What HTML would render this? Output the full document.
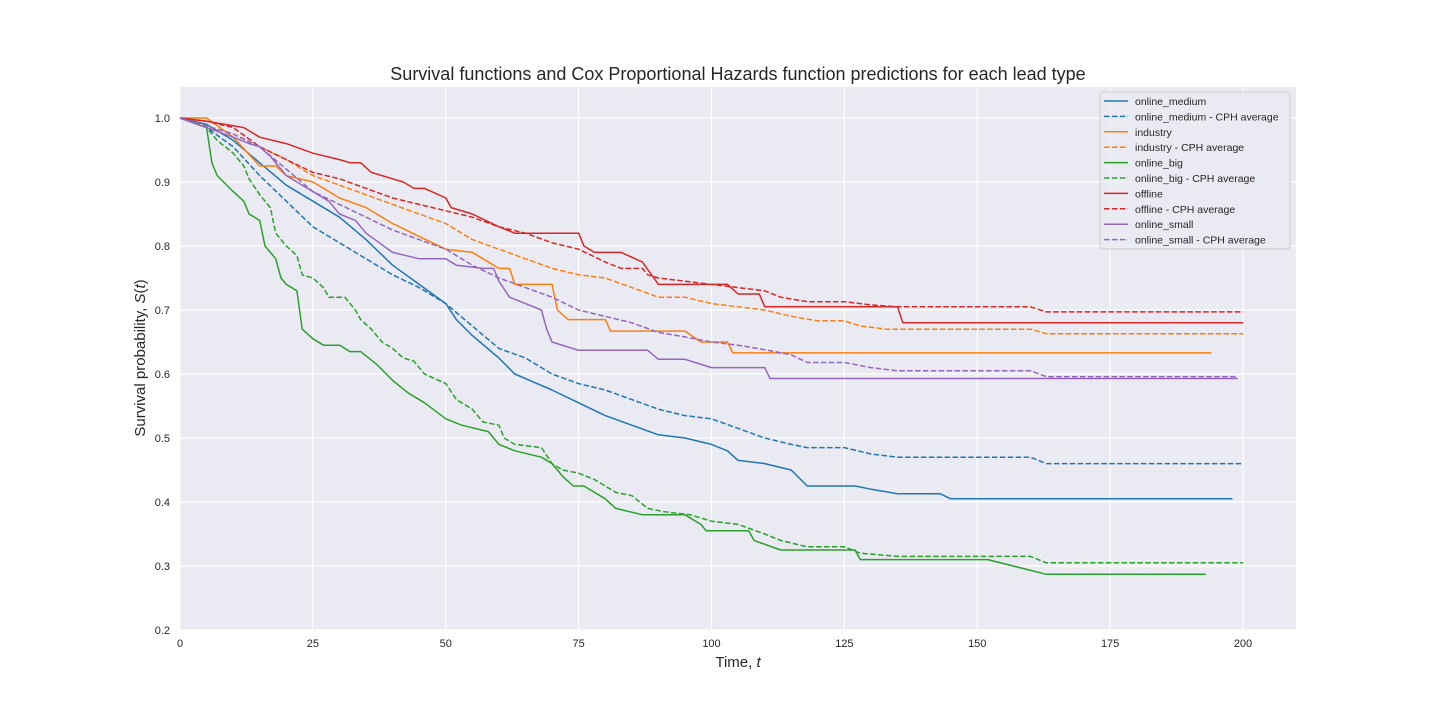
<!DOCTYPE html>
<html><head><meta charset="utf-8"><style>
body{margin:0;background:#fff;}
svg{display:block;font-family:"Liberation Sans",Arial,sans-serif;}
</style></head><body>
<svg id="chart" width="1440" height="720">
<rect x="180" y="87" width="1116" height="543" fill="#eaeaf2"/>
<g id="grid"></g><g id="series"></g><g id="ticks"></g>
<text x="738" y="80" text-anchor="middle" font-size="18" fill="#262626">Survival functions and Cox Proportional Hazards function predictions for each lead type</text>
<text x="738" y="667" text-anchor="middle" font-size="15" fill="#262626">Time, <tspan font-style="italic">t</tspan></text>
<text transform="translate(145,358) rotate(-90)" text-anchor="middle" font-size="15" fill="#262626">Survival probability, <tspan font-style="italic">S</tspan>(<tspan font-style="italic">t</tspan>)</text>
<g id="legend"></g>
</svg>
<script>
const xTicks=[0,25,50,75,100,125,150,175,200];
const yTicks=[0.2,0.3,0.4,0.5,0.6,0.7,0.8,0.9,1.0];
const seriesNames=["online_medium","online_medium - CPH average","industry","industry - CPH average","online_big","online_big - CPH average","offline","offline - CPH average","online_small","online_small - CPH average"];
const mediumT=[0,5,10,15,20,25,30,35,40,45,50,52,55,60,63,70,75,80,85,90,95,100,103,105,110,115,118,127,130,135,143,145,198];
const mediumS=[1,.99,.965,.93,.895,.87,.845,.81,.77,.74,.71,.685,.66,.625,.6,.575,.555,.535,.52,.505,.5,.49,.48,.465,.46,.45,.425,.425,.42,.413,.413,.405,.405];
const mediumCT=[0,5,10,15,20,25,30,35,40,45,50,55,60,65,70,75,80,85,90,95,100,105,110,115,118,125,130,135,160,163,200];
const mediumCS=[1,.985,.955,.91,.87,.83,.805,.78,.755,.735,.71,.675,.64,.625,.6,.585,.575,.56,.545,.535,.53,.515,.5,.49,.485,.485,.475,.47,.47,.46,.46];
const industryT=[0,5,10,15,18,20,25,30,35,40,45,50,55,57,60,62,63,70,71,73,80,81,95,98,103,104,194];
const industryS=[1,1,.97,.925,.925,.91,.9,.875,.86,.835,.815,.795,.79,.78,.765,.765,.74,.74,.7,.685,.685,.667,.667,.65,.65,.633,.633];
const industryCT=[0,10,20,25,30,35,40,45,50,55,60,65,70,75,80,85,90,95,100,105,110,115,120,125,128,133,160,163,200];
const industryCS=[1,.975,.935,.91,.895,.88,.865,.85,.835,.81,.795,.78,.765,.755,.75,.735,.72,.72,.71,.705,.7,.69,.683,.683,.675,.67,.67,.663,.663];
const bigT=[0,5,6,7,10,12,13,15,16,18,19,20,22,23,25,27,30,32,34,37,40,43,46,50,53,58,60,63,68,70,72,74,76,80,82,87,95,98,99,107,108,113,127,128,152,163,193];
const bigS=[1,.985,.93,.91,.885,.87,.85,.84,.8,.78,.75,.74,.73,.67,.655,.645,.645,.635,.635,.615,.59,.57,.555,.53,.52,.51,.49,.48,.47,.46,.44,.425,.425,.405,.39,.38,.38,.365,.355,.355,.34,.325,.325,.31,.31,.287,.287];
const bigCT=[0,5,7,10,12,13,15,17,18,20,22,23,25,27,28,31,33,34,36,38,40,42,44,46,50,52,55,57,60,61,63,68,70,72,75,78,82,85,88,91,96,100,105,110,113,118,125,128,135,160,163,200];
const bigCS=[1,.985,.965,.945,.925,.905,.88,.86,.82,.8,.785,.755,.75,.735,.72,.72,.7,.685,.67,.65,.64,.625,.62,.6,.585,.56,.545,.525,.52,.5,.49,.485,.46,.45,.445,.435,.415,.41,.39,.385,.38,.37,.365,.35,.34,.33,.33,.32,.315,.315,.305,.305];
const offlineT=[0,5,12,15,20,25,30,32,34,36,40,42,44,46,50,51,55,60,63,75,76,78,83,87,90,103,105,109,110,135,136,200];
const offlineS=[1,.995,.985,.97,.96,.945,.935,.93,.93,.915,.905,.9,.89,.89,.875,.86,.85,.83,.82,.82,.8,.79,.79,.775,.74,.74,.725,.725,.705,.705,.68,.68];
const offlineCT=[0,5,10,15,20,25,30,35,40,45,50,55,60,65,70,75,80,83,87,88,90,95,100,105,110,113,118,125,130,135,160,163,200];
const offlineCS=[1,.995,.985,.955,.935,.915,.905,.89,.875,.865,.855,.845,.83,.82,.805,.795,.775,.765,.765,.755,.75,.745,.74,.735,.73,.72,.713,.713,.708,.705,.705,.697,.697];
const smallT=[0,5,10,13,15,17,20,25,28,30,33,35,40,45,50,52,57,59,60,62,65,68,69,70,75,88,90,95,100,110,111,199];
const smallS=[1,.985,.97,.96,.955,.94,.91,.885,.87,.85,.84,.82,.79,.78,.78,.77,.765,.765,.745,.72,.71,.7,.67,.65,.637,.637,.623,.623,.61,.61,.593,.593];
const smallCT=[0,10,15,20,25,30,35,40,45,50,55,60,65,70,75,80,85,90,95,100,105,110,115,118,125,130,135,160,163,199];
const smallCS=[1,.975,.955,.92,.885,.865,.845,.825,.81,.795,.77,.75,.735,.72,.7,.69,.68,.665,.658,.65,.645,.638,.63,.618,.618,.61,.605,.605,.596,.596];

const X=t=>180+t*(1063/200);
const Y=s=>118+(1-s)*640;
const NS="http://www.w3.org/2000/svg";
function mk(tag,attrs,parent){const e=document.createElementNS(NS,tag);for(const k in attrs)e.setAttribute(k,attrs[k]);parent.appendChild(e);return e;}
const grid=document.getElementById('grid'),ticks=document.getElementById('ticks'),ser=document.getElementById('series'),leg=document.getElementById('legend');
xTicks.forEach(t=>{
  const l=mk('line',{x1:X(t),x2:X(t),y1:87,y2:630,stroke:'#fff','stroke-width':1.2},grid);
  
  
  const tx=mk('text',{x:X(t),y:647,'text-anchor':'middle','font-size':11,fill:'#262626'},ticks);
  tx.textContent=t;
  
  
});
yTicks.forEach(s=>{
  const l=mk('line',{x1:180,x2:1296,y1:Y(s),y2:Y(s),stroke:'#fff','stroke-width':1.2},grid);
  
  
  const tx=mk('text',{x:170,y:Y(s)+4,'text-anchor':'end','font-size':11,fill:'#262626'},ticks);
  tx.textContent=s.toFixed(1);
  
  
});
const data=[[mediumT,mediumS],[mediumCT,mediumCS],[industryT,industryS],[industryCT,industryCS],[bigT,bigS],[bigCT,bigCS],[offlineT,offlineS],[offlineCT,offlineCS],[smallT,smallS],[smallCT,smallCS]];
const colors=['#1f77b4','#ff7f0e','#2ca02c','#d62728','#9467bd'];
data.forEach((d,i)=>{
  const pts=d[0].map((t,j)=>X(t).toFixed(1)+','+Y(d[1][j]).toFixed(1)).join(' ');
  const a={points:pts,fill:'none',stroke:colors[i>>1],'stroke-width':1.5,'stroke-linejoin':'round'};
  if(i%2)a['stroke-dasharray']='5.5,2.4';
  const p=mk('polyline',a,ser);
  
  
});
const box=mk('rect',{x:1100,y:92,width:190,height:157,rx:3,fill:'#eaeaf2','fill-opacity':0.8,stroke:'#ccc'},leg);


seriesNames.forEach((n,i)=>{
  const y=101+i*15.4;
  const a={x1:1104,x2:1128,y1:y,y2:y,stroke:colors[i>>1],'stroke-width':1.5};
  if(i%2)a['stroke-dasharray']='5.5,2.4';
  const l=mk('line',a,leg);
  
  
  const tx=mk('text',{x:1135,y:y+4,'font-size':10.5,fill:'#262626'},leg);
  tx.textContent=n;
  
  
});
</script>
</body></html>
